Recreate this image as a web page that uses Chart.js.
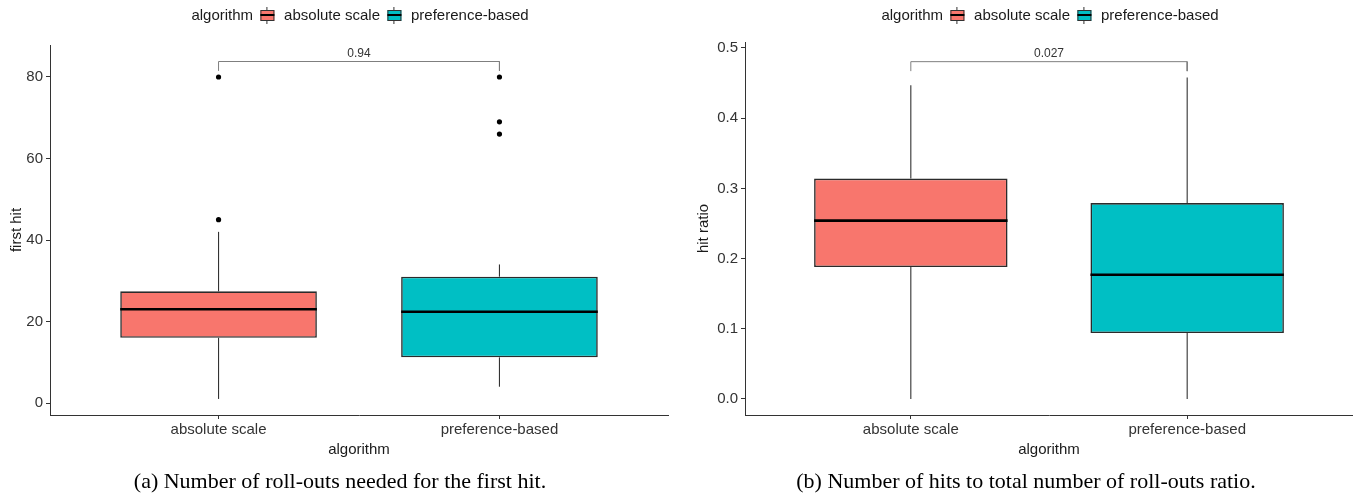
<!DOCTYPE html>
<html><head><meta charset="utf-8">
<script src="https://cdn.jsdelivr.net/npm/chart.js@4"></script>
<style>
html,body{margin:0;padding:0;background:#fff;width:1353px;height:493px;overflow:hidden;position:relative;font-family:"Liberation Sans",Arial,sans-serif}
canvas{position:absolute;top:0}
.legend{position:absolute;top:6px;transform:translateX(-50%);display:flex;align-items:center;font-size:15px;color:#1a1a1a;white-space:nowrap;line-height:18px}
.key{position:relative;width:14px;height:17px;margin:0 10px 0 7px}
.key .stub{position:absolute;left:6.5px;width:1px;background:#333}
.key .box{position:absolute;left:0;top:3px;width:12px;height:9px;border:1px solid #333}
.key .med{position:absolute;left:0;top:7.5px;width:14px;height:1.5px;background:#000}
.caption{position:absolute;top:468px;transform:translateX(-50%);font-family:"Liberation Serif","Times New Roman",serif;font-size:22px;line-height:26px;color:#000;white-space:nowrap}
</style></head>
<body>
<canvas id="cA" width="680" height="470" style="left:0"></canvas>
<canvas id="cB" width="673" height="470" style="left:680px"></canvas>
<div class="legend" id="legA" style="left:360px"></div>
<div class="legend" id="legB" style="left:1050px"></div>
<div class="caption" style="left:340px">(a) Number of roll-outs needed for the first hit.</div>
<div class="caption" style="left:1026px">(b) Number of hits to total number of roll-outs ratio.</div>
<script>
// ---------- data ----------
const CATEGORIES = ['absolute scale', 'preference-based'];
const LEGEND_TITLE = 'algorithm';
const X_TITLE = 'algorithm';

// panel (a): first hit
const A_LOW = [1, 4];
const A_Q1 = [16, 11.2];
const A_MEDIAN = [23, 22.4];
const A_Q3 = [27.4, 31];
const A_HIGH = [42, 34];
const A_OUTLIERS = [[45, 80], [66, 69, 80]];
const A_YTICKS = [0, 20, 40, 60, 80];
const A_YTITLE = 'first hit';
const A_PVALUE = '0.94';
const A_BRACKET = [81.5, 83.8];

// panel (b): hit ratio
const B_LOW = [0, 0];
const B_Q1 = [0.188, 0.094];
const B_MEDIAN = [0.254, 0.177];
const B_Q3 = [0.314, 0.279];
const B_HIGH = [0.447, 0.458];
const B_OUTLIERS = [[], []];
const B_YTICKS = [0, 0.1, 0.2, 0.3, 0.4, 0.5];
const B_YTITLE = 'hit ratio';
const B_PVALUE = '0.027';
const B_BRACKET = [0.467, 0.4805];

// ---------- styles ----------
const FILLS = ['#F8766D', '#00BFC4'];
const BOX_W = 0.7;
Chart.defaults.font.family = '"Liberation Sans", Arial, sans-serif';

function seg(points, color, width, order) {
  return {type: 'line', data: points, borderColor: color, borderWidth: width,
    pointRadius: 0, fill: false, tension: 0, order: order, borderCapStyle: 'butt'};
}

function buildPanel(id, p) {
  const ds = [];
  CATEGORIES.forEach((c, i) => {
    const x = i + 1;
    ds.push(seg([{x: x, y: p.low[i]}, {x: x, y: p.q1[i]}], '#333', 1.1, 5));
    ds.push(seg([{x: x, y: p.q3[i]}, {x: x, y: p.high[i]}], '#333', 1.1, 5));
  });
  ds.push({type: 'bar', data: CATEGORIES.map((c, i) => ({x: i + 1, y: [p.q1[i], p.q3[i]]})),
    backgroundColor: FILLS, borderColor: '#2b2b2b', borderWidth: 1.6, borderSkipped: false,
    barPercentage: BOX_W, categoryPercentage: 1, order: 4});
  CATEGORIES.forEach((c, i) => {
    const x = i + 1;
    ds.push(seg([{x: x - BOX_W / 2, y: p.median[i]}, {x: x + BOX_W / 2, y: p.median[i]}], '#000', 2.6, 1));
  });
  const pts = [];
  p.outliers.forEach((arr, i) => arr.forEach(v => pts.push({x: i + 1, y: v})));
  ds.push({type: 'scatter', data: pts, backgroundColor: '#000', borderColor: '#000',
    pointRadius: 2.6, borderWidth: 0, order: 0});
  ds.push(seg([{x: 1, y: p.bracket[0]}, {x: 1, y: p.bracket[1]}, {x: 2, y: p.bracket[1]}, {x: 2, y: p.bracket[0]}], '#7f7f7f', 1, 2));

  const pPlugin = {
    id: 'pval',
    afterDatasetsDraw(chart) {
      const ctx = chart.ctx, xs = chart.scales.x, ys = chart.scales.y;
      ctx.save();
      ctx.fillStyle = '#333';
      ctx.font = '12px "Liberation Sans", Arial, sans-serif';
      ctx.textAlign = 'center';
      ctx.textBaseline = 'bottom';
      ctx.fillText(p.pvalue, xs.getPixelForValue(1.5), ys.getPixelForValue(p.bracket[1]) - 2);
      ctx.restore();
    }
  };

  new Chart(document.getElementById(id), {
    type: 'bar',
    data: {datasets: ds},
    options: {
      responsive: false, animation: false, events: [],
      layout: {padding: p.padding},
      plugins: {legend: {display: false}, tooltip: {enabled: false}},
      scales: {
        x: {type: 'linear', min: 0.4, max: 2.6, offset: false,
          afterBuildTicks: s => { s.ticks = [1, 2].map(v => ({value: v})); },
          afterFit: s => { s.height = 55; },
          ticks: {autoSkip: false, maxRotation: 0, padding: 2, color: '#333', font: {size: 15},
            callback: v => CATEGORIES[Math.round(v) - 1]},
          grid: {display: true, drawOnChartArea: false, drawTicks: true, tickLength: 4, color: '#333', offset: false},
          border: {display: true, color: '#333', width: 1},
          title: {display: true, text: X_TITLE, color: '#1a1a1a', font: {size: 15}, padding: {top: 0, bottom: 11}}
        },
        y: {type: 'linear', min: p.ymin, max: p.ymax,
          afterBuildTicks: s => { s.ticks = p.yticks.map(v => ({value: v})); },
          afterFit: s => { s.width = p.yw; },
          ticks: {padding: 3, color: '#333', font: {size: 15}, callback: v => p.fmt(v)},
          grid: {display: true, drawOnChartArea: false, drawTicks: true, tickLength: 4, color: '#333'},
          border: {display: true, color: '#333', width: 1},
          title: {display: true, text: p.ytitle, color: '#1a1a1a', font: {size: 15}, padding: {top: p.ytpad, bottom: 0}}
        }
      }
    },
    plugins: [pPlugin]
  });
}

function buildLegend(id) {
  const el = document.getElementById(id);
  const t = document.createElement('span');
  t.textContent = LEGEND_TITLE;
  el.appendChild(t);
  CATEGORIES.forEach((c, i) => {
    const k = document.createElement('span');
    k.className = 'key';
    k.innerHTML = '<span class="stub" style="top:0;height:3px"></span><span class="box" style="background:' + FILLS[i] +
      '"></span><span class="med"></span><span class="stub" style="top:14px;height:3px"></span>';
    el.appendChild(k);
    const s = document.createElement('span');
    s.textContent = c;
    el.appendChild(s);
  });
}

buildPanel('cA', {low: A_LOW, q1: A_Q1, median: A_MEDIAN, q3: A_Q3, high: A_HIGH, outliers: A_OUTLIERS,
  yticks: A_YTICKS, ytitle: A_YTITLE, pvalue: A_PVALUE, bracket: A_BRACKET,
  ymin: -2.94, ymax: 87.85, yw: 50, ytpad: 8, fmt: v => String(v),
  padding: {top: 45, right: 12, left: 0, bottom: 0}});
buildPanel('cB', {low: B_LOW, q1: B_Q1, median: B_MEDIAN, q3: B_Q3, high: B_HIGH, outliers: B_OUTLIERS,
  yticks: B_YTICKS, ytitle: B_YTITLE, pvalue: B_PVALUE, bracket: B_BRACKET,
  ymin: -0.0228, ymax: 0.5085, yw: 65, ytpad: 15, fmt: v => v.toFixed(1),
  padding: {top: 42, right: 0, left: 0, bottom: 0}});
buildLegend('legA');
buildLegend('legB');
</script>
</body></html>
